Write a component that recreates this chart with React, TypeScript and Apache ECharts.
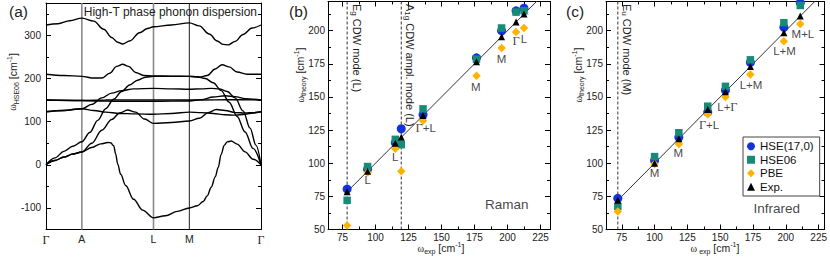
import { useEffect, useRef } from 'react';
import * as echarts from 'echarts';

const SANS = '"Liberation Sans", Arial, Helvetica, sans-serif';
const SERIF = '"Liberation Serif", "Times New Roman", serif';

// ---------------- (a) High-T phase phonon dispersion ----------------
const kPointNames = ['Γ', 'A', 'L', 'M', 'Γ'];
const kPointPos = [0, 36, 108, 144, 216];
const phononTickLabels = [-100, 0, 100, 200, 300];
const phononMinorTicks = [-50, 50, 150, 250, 350];

const bandTop = [[0,324],[12,327],[24,334],[36,340],[48,333],[58,314],[66,295],[72,284],[77,280],[84,287],[94,306],[102,316],[108,320],[126,324],[144,329],[154,322],[164,303],[172,287],[178,279],[183,278],[190,286],[198,302],[207,317],[216,324]];
const band210 = [[0,210],[18,207],[36,205],[48,201],[56,201],[64,212],[71,228],[77,233],[83,228],[90,214],[98,207],[108,206],[126,205.5],[144,205],[154,203],[162,207],[170,222],[177,232],[184,227],[192,215],[202,210],[216,210]];
const bandLA = [[0,0],[9,16],[18,31],[27,43],[36,53.5],[44,75],[52,103],[60,130],[68,152],[76,170],[84,185],[92,196],[100,203],[108,205],[126,205],[144,205],[152,204],[160,200],[168,190],[176,172],[184,145],[192,112],[200,76],[208,38],[216,0]];
const band175 = [[0,123],[18,126],[36,130],[46,140],[56,155],[66,166],[76,172],[88,176],[108,177],[126,176],[144,175],[156,176],[166,177],[174,176],[182,170],[190,155],[198,125],[205,85],[211,45],[216,0]];
const band117 = [[0,123],[18,126],[36,130],[48,126],[60,122],[74,119],[90,118],[108,117],[126,119],[144,122],[156,121],[168,119],[180,116],[190,115],[200,117],[208,120],[216,123]];
const band96 = [[0,0],[9,10],[18,18],[27,25],[36,29.5],[46,50],[56,80],[66,105],[74,120],[82,127],[90,122],[99,106],[108,96],[126,98],[144,101.5],[154,108],[163,121],[171,128],[180,126],[190,121],[200,120],[208,121],[216,123]];
const bandSoft = [[0,0],[9,10],[18,18],[27,25],[36,29.5],[46,40],[55,48.5],[62,51.5],[65,51],[68,44],[70,25],[72,2],[75,-22],[80,-48],[88,-80],[97,-105],[108,-123],[120,-118],[132,-108],[144,-100],[152,-95],[158,-85],[162,-72],[166,-52],[170,-28],[173,-6],[176,24],[179,45],[182,53],[186,55],[192,48],[200,30],[208,13],[216,0]];
const band150a = [[0,150],[36,149],[60,150],[84,150.5],[108,150],[144,150],[170,150.5],[195,151],[216,150]];
const band150b = [[0,150],[36,149],[52,148],[72,147],[108,147],[144,148],[156,151],[168,157],[180,160],[190,158],[200,153],[216,150]];
const phononBands = [bandTop, band210, bandLA, band175, band117, band96, bandSoft, band150a, band150b];

// ---------------- (b) Raman / (c) Infrared ----------------
const scatterTickLabels = [50, 75, 100, 125, 150, 175, 200, 225];
const scatterMinorTicks = [62.5, 87.5, 112.5, 137.5, 162.5, 187.5, 212.5];

const ramanExp = [78.5, 94, 115, 119.5, 136, 176.5, 195.5, 206.5, 212.5];
const ramanHSE17 = [80.5, 95.5, 115.5, 126, 136.5, 179.5, 200, 215, 217];
const ramanHSE06 = [72, 97.5, 118, 114, 141, 178.5, 202, 214, 215];
const ramanPBE = [53, 93, 111, 94, 132, 166, 187, 199, 202];
const ramanNotes = ['L', 'L', 'Γ+L', 'M', 'M', 'Γ', 'L'];
const ramanNotePos = [[94, 87.5], [115, 105], [138, 126.5], [176, 157.5], [195.5, 179], [206.5, 192], [212.5, 193.5]];

const irExp = [72, 100, 118.5, 140.5, 154, 173, 198.5, 211];
const irHSE17 = [73.5, 102, 119.5, 138.5, 155, 176, 202.5, 221];
const irHSE06 = [67.5, 105, 123, 143, 158, 178, 206, 219];
const irPBE = [63.5, 99.5, 114.5, 137, 150, 167, 192, 205];
const irNotes = ['M', 'M', 'Γ+L', 'L+Γ', 'L+M', 'L+M', 'M+L'];
const irNotePos = [[100, 92.5], [118, 107.5], [141.5, 129], [155.5, 142.5], [173.5, 159], [199, 184.5], [213, 197.5]];

const methods = ['HSE(17,0)', 'HSE06', 'PBE', 'Exp.'];

const GRIDS = [
  { left: 46, top: 3, width: 215, height: 226.5, xMin: 0, xMax: 216, yMin: -150, yMax: 375 },
  { left: 328, top: 1.5, width: 222, height: 228, xMin: 64, xMax: 232.2, yMin: 50, yMax: 222 },
  { left: 606, top: 1.5, width: 222, height: 228, xMin: 63, xMax: 229.5, yMin: 50, yMax: 222 },
];

const px = (g: any, v: number) => g.left + ((v - g.xMin) / (g.xMax - g.xMin)) * g.width;

const greek = (t: string) => t.split('Γ').join('{g|Γ}');

function sideAxes(dim: 'x' | 'y', gi: number, spec: any) {
  const g = GRIDS[gi];
  const min = dim === 'x' ? g.xMin : g.yMin;
  const max = dim === 'x' ? g.xMax : g.yMax;
  const inRange = (a: number[]) => a.filter((v) => v >= min && v <= max);
  const sides = dim === 'x' ? ['bottom', 'top'] : ['left', 'right'];
  const out: any[] = [];
  sides.forEach((side, si) => {
    [spec.major, spec.minor].forEach((ticks: number[], ti: number) => {
      const withLabel = si === 0 && ti === 0;
      const t = inRange(ticks);
      out.push({
        type: 'value',
        gridIndex: gi,
        position: side,
        min,
        max,
        splitLine: { show: false },
        axisLine: { show: ti === 0, onZero: false, lineStyle: { color: '#000', width: 1 } },
        axisTick: t.length
          ? { show: true, inside: true, length: ti === 0 ? 5 : 3, customValues: t, lineStyle: { color: '#000', width: 1 } }
          : { show: false },
        axisLabel: withLabel
          ? {
              show: true,
              customValues: inRange(spec.labels),
              formatter: spec.formatter,
              fontSize: spec.fontSize,
              fontFamily: SANS,
              color: '#222',
              margin: spec.margin,
              rich: spec.rich,
            }
          : { show: false },
      });
    });
  });
  return out;
}

function scatterSeries(gi: number, exp: number[], hse17: number[], hse06: number[], pbe: number[], notes: string[], notePos: number[][], modeXs: number[], tag: string, tagPos: number[]) {
  const ax = { xAxisIndex: gi * 4, yAxisIndex: gi * 4 };
  const g = GRIDS[gi];
  const out: any[] = [];
  modeXs.forEach((x) => {
    out.push({
      type: 'line', ...ax, data: [[x, g.yMin], [x, g.yMax]], symbol: 'none', silent: true, z: 1,
      lineStyle: { color: '#333', width: 1, type: [3, 2] },
    });
  });
  out.push({
    type: 'line', ...ax, data: [[exp[0], exp[0]], [g.xMax, g.xMax]], symbol: 'none', silent: true, z: 2,
    lineStyle: { color: '#333', width: 1 },
  });
  const mk = (name: string, vals: number[], symbol: string, size: number, color: string, z: number) => ({
    name, type: 'scatter', ...ax, symbol, symbolSize: size, z,
    itemStyle: { color, opacity: 1 },
    data: exp.map((x, i) => [x, vals[i]]),
  });
  out.push(mk(methods[0], hse17, 'circle', 9, '#1432dc', 3));
  out.push(mk(methods[1], hse06, 'rect', 7.5, '#168c78', 4));
  out.push(mk(methods[2], pbe, 'diamond', 8.5, '#ffb300', 5));
  out.push(mk(methods[3], exp, 'triangle', 7, '#000', 6));
  out.push({
    type: 'scatter', ...ax, symbolSize: 0, silent: true, z: 7,
    data: notes.map((t, i) => ({ name: t, value: notePos[i] })),
    label: {
      show: true, position: 'inside', formatter: (p: any) => greek(p.name),
      fontSize: 11.5, fontFamily: SANS, color: '#111',
      rich: { g: { fontFamily: SERIF, fontSize: 12.5, color: '#111' } },
    },
  });
  out.push({
    type: 'scatter', ...ax, symbolSize: 0, silent: true, z: 7,
    data: [{ name: tag, value: tagPos }],
    label: { show: true, position: 'inside', formatter: '{b}', fontSize: 13.5, fontFamily: SANS, color: '#111' },
  });
  return out;
}

const nameRich = {
  w: { fontFamily: SERIF, fontSize: 10, lineHeight: 14, fill: '#222' },
  n: { fontFamily: SANS, fontSize: 10.5, lineHeight: 14, fill: '#222' },
  s: { fontFamily: SANS, fontSize: 7, lineHeight: 8, verticalAlign: 'bottom', fill: '#222' },
  p: { fontFamily: SANS, fontSize: 7, lineHeight: 8, verticalAlign: 'top', fill: '#222' },
};

function nameText(sub: string) {
  return `{w|ω}{s|${sub}}{n| [cm}{p|-1}{n|]}`;
}

function buildOption() {
  const xAxis = [
    ...sideAxes('x', 0, {
      major: [], minor: [], labels: kPointPos, fontSize: 10.5, margin: 4,
      formatter: (v: number) => {
        const n = kPointNames[kPointPos.indexOf(v)] || '';
        return n === 'Γ' ? '{g|Γ}' : n;
      },
      rich: { g: { fontFamily: SERIF, fontSize: 12, color: '#222' } },
    }),
    ...sideAxes('x', 1, { major: scatterTickLabels, minor: scatterMinorTicks, labels: scatterTickLabels, fontSize: 10, margin: 3 }),
    ...sideAxes('x', 2, { major: scatterTickLabels, minor: scatterMinorTicks, labels: scatterTickLabels, fontSize: 10, margin: 3 }),
  ];
  const yAxis = [
    ...sideAxes('y', 0, { major: phononTickLabels, minor: phononMinorTicks, labels: phononTickLabels, fontSize: 10, margin: 5 }),
    ...sideAxes('y', 1, { major: scatterTickLabels, minor: scatterMinorTicks, labels: scatterTickLabels, fontSize: 10, margin: 3 }),
    ...sideAxes('y', 2, { major: scatterTickLabels, minor: scatterMinorTicks, labels: scatterTickLabels, fontSize: 10, margin: 3 }),
  ];

  const series: any[] = [];
  kPointPos.slice(1, 4).forEach((p, i) => {
    series.push({
      type: 'line', xAxisIndex: 0, yAxisIndex: 0, symbol: 'none', silent: true, z: 1,
      data: [[p, GRIDS[0].yMin], [p, GRIDS[0].yMax]],
      lineStyle: { color: i === 2 ? '#222' : '#8a8a8a', width: i === 2 ? 1 : 1.6 },
    });
  });
  phononBands.forEach((b) => {
    series.push({
      type: 'line', xAxisIndex: 0, yAxisIndex: 0, data: b, symbol: 'none', showSymbol: false,
      smooth: 0.35, smoothMonotone: 'x', silent: true, z: 3,
      lineStyle: { color: '#000', width: 1.4 },
    });
  });
  series.push(...scatterSeries(1, ramanExp, ramanHSE17, ramanHSE06, ramanPBE, ramanNotes, ramanNotePos, [ramanExp[0], ramanExp[3]], 'Raman', [199.5, 68.5]));
  series.push(...scatterSeries(2, irExp, irHSE17, irHSE06, irPBE, irNotes, irNotePos, [irExp[0]], 'Infrared', [193, 65.5]));

  const gB = GRIDS[1];
  const gC = GRIDS[2];
  const modeRich = {
    n: { fontFamily: SANS, fontSize: 11, lineHeight: 13, fill: '#222' },
    s: { fontFamily: SANS, fontSize: 8, lineHeight: 8, verticalAlign: 'bottom', fill: '#222' },
  };
  const vText = (x: number, text: string) => ({
    type: 'text', x, y: 4, rotation: -Math.PI / 2, silent: true, z: 10,
    style: { text, rich: modeRich, align: 'left', verticalAlign: 'middle', fill: '#222' },
  });
  const rotName = (x: number, y: number, sub: string) => ({
    type: 'text', x, y, rotation: Math.PI / 2, silent: true, z: 10,
    style: { text: nameText(sub), rich: nameRich, align: 'center', verticalAlign: 'middle', fill: '#222' },
  });
  const hName = (x: number, y: number, sub: string) => ({
    type: 'text', x, y, silent: true, z: 10,
    style: { text: nameText(sub), rich: nameRich, align: 'center', verticalAlign: 'middle', fill: '#222' },
  });
  const plain = (x: number, y: number, text: string, size: number, align = 'left') => ({
    type: 'text', x, y, silent: true, z: 10,
    style: { text, fontFamily: SANS, fontSize: size, fill: '#222', align, verticalAlign: 'middle' },
  });

  const graphic = [
    plain(9, 11, '(a)', 15.5),
    plain(289, 11, '(b)', 15.5),
    plain(566, 11, '(c)', 15.5),
    plain(257, 11.5, 'High-T phase phonon dispersion', 12, 'right'),
    rotName(12.5, 82, 'HSE06'),
    rotName(300, 75, 'theory'),
    rotName(578, 75, 'theory'),
    hName(gB.left + gB.width / 2 + 2, 248, 'exp'),
    hName(gC.left + gC.width / 2 - 2, 248, ' exp'),
    vText(px(gB, ramanExp[0]) + 9.5, '{n|E}{s|g}{n| CDW mode (L)}'),
    vText(px(gB, ramanExp[3]) + 9, '{n|A}{s|1g}{n| CDW ampl. mode (L)}'),
    vText(px(gC, irExp[0]) + 9, '{n|E}{s|u}{n| CDW mode (M)}'),
  ];

  return {
    animation: false,
    backgroundColor: '#fff',
    grid: GRIDS.map((g) => ({ left: g.left, top: g.top, width: g.width, height: g.height, containLabel: false })),
    xAxis,
    yAxis,
    legend: {
      data: methods,
      orient: 'vertical',
      left: 743,
      top: 137,
      itemWidth: 8,
      itemHeight: 8,
      itemGap: 1,
      padding: [3, 6, 3, 4],
      borderColor: '#444',
      borderWidth: 1,
      backgroundColor: '#fff',
      selectedMode: false,
      textStyle: { fontSize: 11.5, fontFamily: SANS, color: '#111', lineHeight: 12.5 },
    },
    series,
    graphic,
  };
}

export default function App() {
  const ref = useRef<HTMLDivElement>(null);
  useEffect(() => {
    const chart = echarts.init(ref.current!, null, { renderer: 'svg' });
    chart.setOption(buildOption() as any);
    return () => chart.dispose();
  }, []);
  return (
    <div
      ref={ref}
      style={{ position: 'fixed', left: 0, top: 0, width: 830, height: 259, background: '#fff' }}
    />
  );
}
